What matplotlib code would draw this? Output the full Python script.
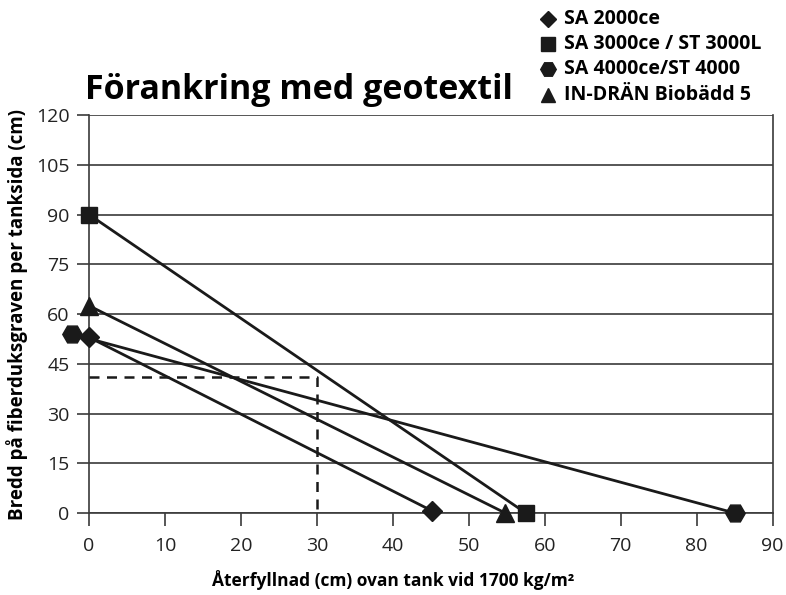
import matplotlib
matplotlib.use('Agg')
import matplotlib.pyplot as plt

plt.rcParams['font.family'] = ['Open Sans', 'DejaVu Sans']

# data
series_names = ['SA 2000ce', 'SA 3000ce / ST 3000L', 'SA 4000ce/ST 4000', 'IN-DRÄN Biobädd 5']
markers = ['D', 's', 'H', '^']
sa2000_x = [0, 45.2]
sa2000_y = [53, 0.6]
sa3000_x = [0, 57.5]
sa3000_y = [90, 0]
sa4000_x = [-2.3, 85]
sa4000_y = [54, 0]
indran_x = [0, 54.8]
indran_y = [62.5, 0]
ref_x = 30
ref_y = 41

xticks = list(range(0, 100, 10))
yticks = list(range(0, 135, 15))

fig = plt.figure(figsize=(7.86, 5.95), dpi=100)
ax = fig.add_axes([0.1132, 0.1378, 0.8698, 0.6689])

xs = [sa2000_x, sa3000_x, sa4000_x, indran_x]
ys = [sa2000_y, sa3000_y, sa4000_y, indran_y]
msizes = [10, 12, 14, 13]
handles = []
for x, y, m, ms, name in zip(xs, ys, markers, msizes, series_names):
    h, = ax.plot(x, y, color='#1a1a1a', lw=2, marker=m, ms=ms, clip_on=False,
                 zorder=5, label=name)
    handles.append(h)

# dashed reference
ax.plot([0, ref_x, ref_x], [ref_y, ref_y, 0], color='#1a1a1a', lw=1.8,
        ls=(0, (4, 3)), zorder=4)

ax.set_xlim(0, 90)
ax.set_ylim(0, 120)
ax.set_xticks(xticks)
ax.set_yticks(yticks)
ax.yaxis.grid(True, color='#3a3a3a', lw=1.2)
ax.set_axisbelow(True)
for s in ['left', 'bottom', 'right']:
    ax.spines[s].set_color('#3a3a3a')
    ax.spines[s].set_linewidth(1.2)
ax.spines['top'].set_visible(False)
ax.tick_params(axis='both', direction='out', length=9, width=1.2, color='#3a3a3a',
               labelsize=14, labelcolor='#222222', pad=5)
ax.tick_params(axis='x', pad=8)

fig.text(0.5, 0.025, 'Återfyllnad (cm) ovan tank vid 1700 kg/m²', fontsize=12.5,
         fontweight='bold', ha='center', va='center')
ax.set_ylabel('Bredd på fiberduksgraven per tanksida (cm)', fontsize=13.5,
              fontweight='bold', labelpad=6)

fig.text(0.108, 0.834, 'Förankring med geotextil', fontsize=24.5, fontweight='bold',
         va='baseline', ha='left')

# legend in upper right
leg_y = [0.968, 0.926, 0.884, 0.84]
for h, name, yy in zip(handles, series_names, leg_y):
    fig.lines.append(plt.Line2D([0.697], [yy], transform=fig.transFigure,
                                marker=h.get_marker(), ms=h.get_markersize() * 0.8,
                                color='#1a1a1a', ls='none'))
    fig.text(0.718, yy, name, fontsize=14, fontweight='bold', va='center', ha='left')

fig.savefig('out.png', dpi=100)
